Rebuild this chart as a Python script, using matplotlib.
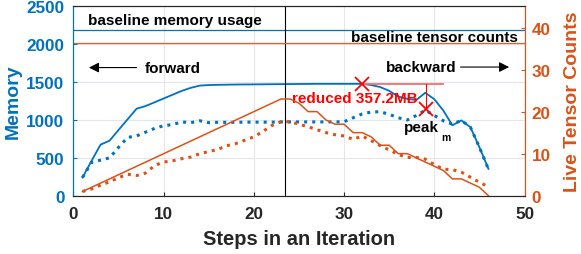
import matplotlib
matplotlib.use("Agg")
import matplotlib.pyplot as plt
import numpy as np

plt.rcParams['font.family'] = ['Liberation Sans', 'DejaVu Sans']
plt.rcParams['font.weight'] = 'bold'

steps = list(range(1, 47))

mem_reduced = [240, 460, 675, 727, 870, 1010, 1150, 1185, 1235, 1285,
               1335, 1385, 1425, 1455, 1462, 1465, 1467, 1469, 1470, 1471,
               1472, 1473, 1474, 1475, 1476, 1477, 1478, 1478, 1478, 1478,
               1478, 1478, 1462, 1436, 1385, 1310, 1280, 1265, 1360, 1275,
               1125, 930, 995, 905, 640, 355]

mem_baseline_run = [240, 440, 470, 500, 640, 770, 790, 840, 890, 925,
                    940, 975, 965, 990, 965, 970, 970, 970, 972, 972,
                    972, 972, 975, 975, 975, 975, 975, 975, 975, 978,
                    1030, 1080, 1105, 1110, 1075, 1030, 1000, 1060, 1130, 1060,
                    990, 945, 995, 905, 640, 350]

tensors_solid = [1, 2, 3, 4, 5, 6, 7, 8, 9, 10,
                 11, 12, 13, 14, 15, 16, 17, 18, 19, 20,
                 21, 22, 23, 23, 22, 20, 20, 18, 17, 17,
                 15, 15, 14, 12, 12, 10, 10, 9, 8, 7,
                 6, 4, 4, 3, 2, 0]

tensors_dotted = [1.0, 1.6, 2.5, 3.3, 4.3, 5.1, 4.8, 5.4, 7.2, 8.0,
                  8.3, 8.8, 9.2, 10.0, 10.5, 11.0, 11.9, 12.4, 13.2, 14.0,
                  15.3, 16.7, 17.6, 17.6, 17.0, 16.4, 15.7, 15.0, 14.5, 14.2,
                  13.4, 14.2, 13.1, 11.9, 10.9, 9.8, 9.1, 9.1, 8.7, 7.4,
                  6.3, 6.2, 5.6, 4.4, 3.2, 2.1]

baseline_memory = 2195
baseline_tensors = 36.3
boundary_step = 23.5
reduced_start = 32
peak_step = 39.1
peak_mem_reduced = 1478
peak_mem_point = 1142
reduced_line_end = 41

blue = '#0072BD'
orange = '#D95319'

fig = plt.figure(figsize=(5.81, 2.55), dpi=100)
ax = fig.add_axes([0.1265, 0.2286, 0.9028 - 0.1265, 0.9706 - 0.2286])
ax2 = ax.twinx()

ax.set_xlim(0, 50)
ax.set_ylim(0, 2500)
ax2.set_ylim(0, 45)

ax.grid(True, color='#e3e6ea', linewidth=0.8)
ax.set_axisbelow(True)

ax.plot(steps, mem_reduced, color=blue, lw=1.3)
ax.plot(steps, mem_baseline_run, color=blue, lw=2.2, ls=':')
ax2.plot(steps, tensors_solid, color=orange, lw=1.1)
ax2.plot(steps, tensors_dotted, color=orange, lw=2.2, ls=':')

ax.axhline(baseline_memory, color=blue, lw=0.9)
ax2.axhline(baseline_tensors, color='#E0622A', lw=0.9)
ax.axvline(boundary_step, color='black', lw=0.8)

ax.plot([reduced_start, reduced_line_end], [peak_mem_reduced, peak_mem_reduced],
        color='#F07070', lw=1.3)
ax.plot([peak_step, peak_step], [peak_mem_reduced, peak_mem_point], color='red', lw=0.8)
ax.plot([reduced_start], [peak_mem_reduced], marker='x', color='red', ms=10, mew=1.3)
ax.plot([peak_step], [peak_mem_point], marker='x', color='red', ms=10, mew=1.3)

fs = 11
ax.text(1.6, 2320, 'baseline memory usage', fontsize=fs, fontweight='bold',
        va='center', ha='left', color='black')
ax.text(49.3, 2095, 'baseline tensor counts', fontsize=fs, fontweight='bold',
        va='center', ha='right', color='black')
ax.text(7.9, 1693, 'forward', fontsize=fs, fontweight='bold', va='center', ha='left')
ax.annotate('', xy=(1.4, 1693), xytext=(7.3, 1693),
            arrowprops=dict(arrowstyle='-|>', color='black', lw=0.8,
                            mutation_scale=15))
ax.text(34.6, 1706, 'backward', fontsize=fs, fontweight='bold', va='center', ha='left')
ax.annotate('', xy=(48.6, 1700), xytext=(42.6, 1700),
            arrowprops=dict(arrowstyle='-|>', color='black', lw=0.8,
                            mutation_scale=15))
ax.text(31.2, 1296, 'reduced 357.2MB', fontsize=fs, fontweight='bold',
        va='center', ha='center', color='red')
ax.text(36.6, 905, 'peak', fontsize=fs, fontweight='bold', va='center', ha='left')
ax.text(40.8, 770, 'm', fontsize=7.5, fontweight='bold', va='center', ha='left')

ax.set_xticks([0, 10, 20, 30, 40, 50])
ax.set_yticks([0, 500, 1000, 1500, 2000, 2500])
ax2.set_yticks([0, 10, 20, 30, 40])

tfs = 12.3
ax.tick_params(axis='x', direction='in', length=3, labelsize=tfs, colors='#262626', pad=7.5)
ax.tick_params(axis='y', direction='in', length=3, labelsize=tfs, colors=blue, pad=6.5)
ax2.tick_params(axis='y', direction='in', length=3, labelsize=tfs, colors=orange, pad=5)
for lab in ax.get_xticklabels() + ax.get_yticklabels() + ax2.get_yticklabels():
    lab.set_fontweight('bold')

ax.set_xlabel('Steps in an Iteration', fontsize=14.5, fontweight='bold', color='#262626', labelpad=6)
ax.set_ylabel('Memory', fontsize=14, fontweight='bold', color=blue, labelpad=3)
ax2.set_ylabel('Live Tensor Counts', fontsize=14, fontweight='bold', color=orange, labelpad=10)

for a in (ax, ax2):
    a.spines['top'].set_color('#262626')
    a.spines['bottom'].set_color('#262626')
    a.spines['left'].set_color(blue)
    a.spines['right'].set_color(orange)
    for s in a.spines.values():
        s.set_linewidth(0.8)

fig.savefig('out.png', dpi=100)
